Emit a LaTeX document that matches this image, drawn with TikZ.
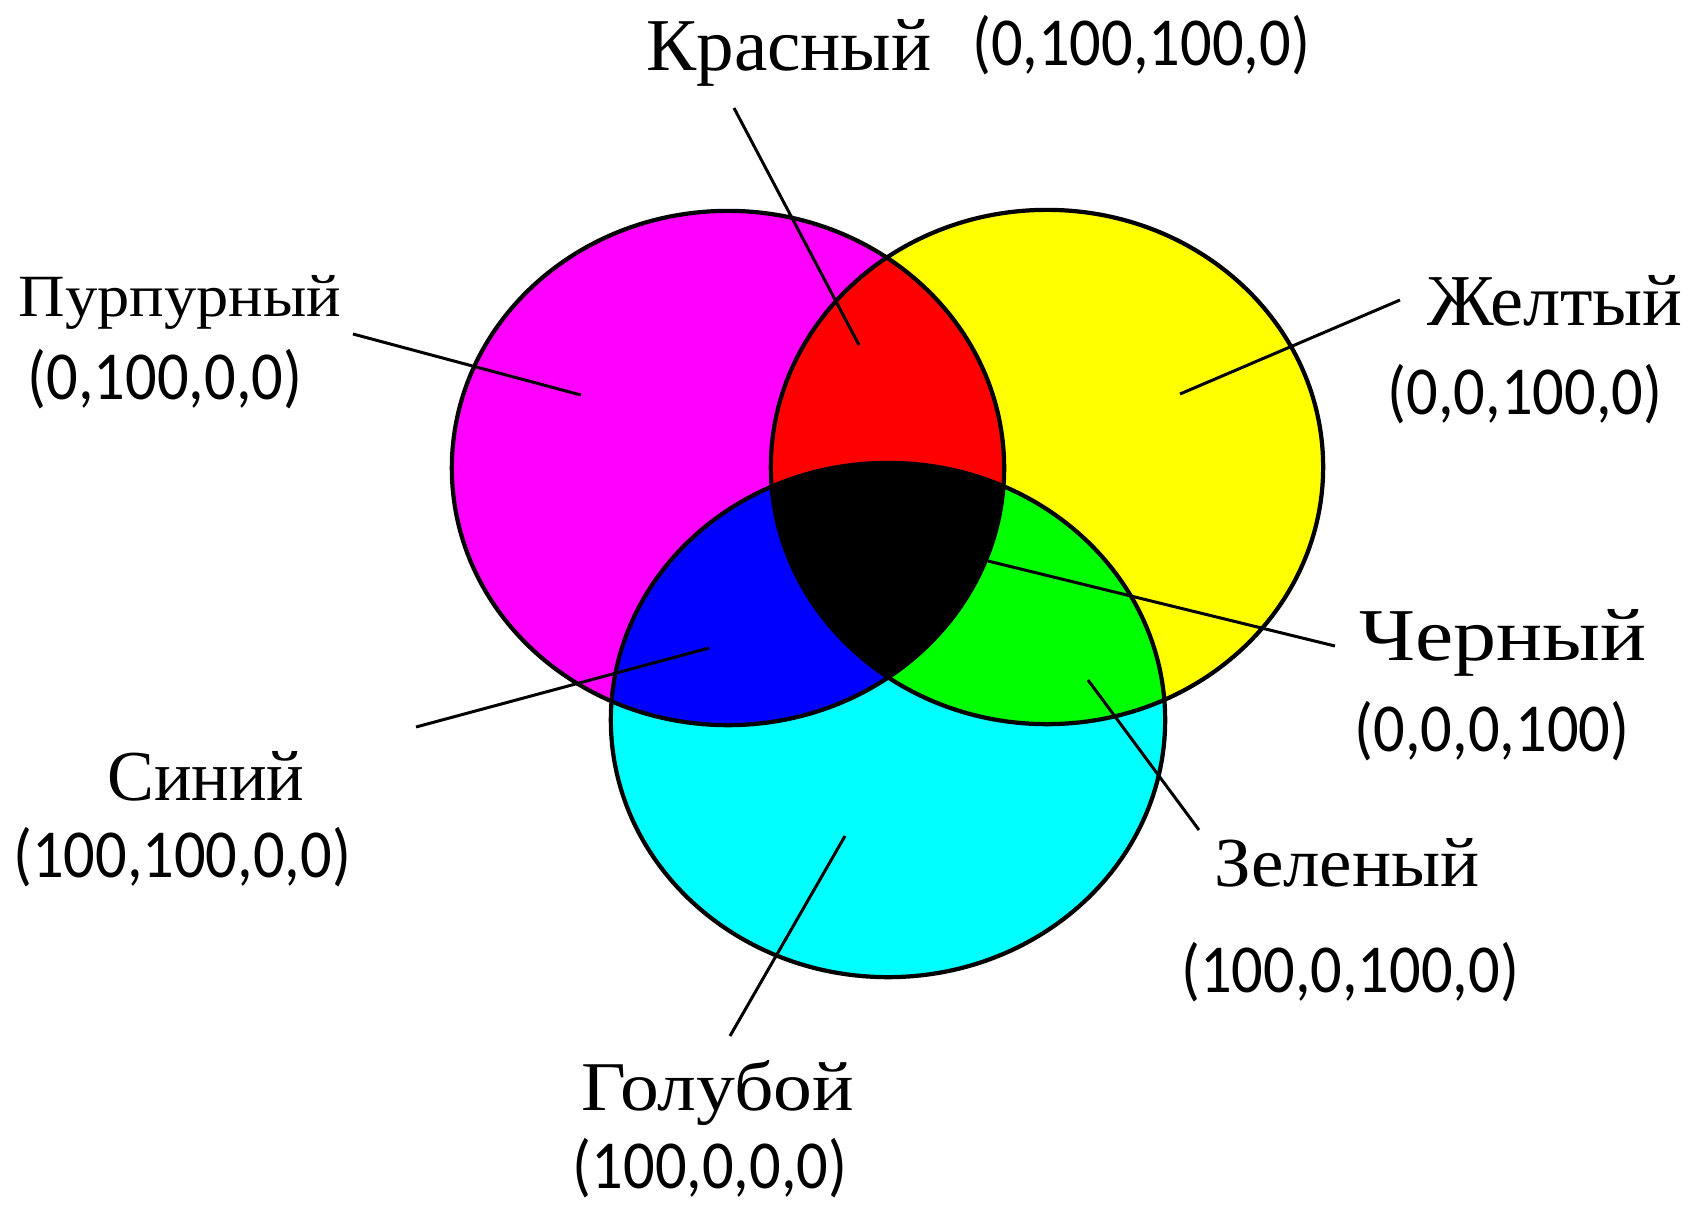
\documentclass[tikz,border=0pt]{standalone}
\usepackage{fontspec}
\newfontfamily\cyrfont{Liberation Serif}
\newfontfamily\numfont{Carlito}
\definecolor{cmag}{RGB}{255,0,255}
\definecolor{cyel}{RGB}{255,255,0}
\definecolor{ccya}{RGB}{0,255,255}
\definecolor{cred}{RGB}{255,0,0}
\definecolor{cblu}{RGB}{0,0,255}
\definecolor{cgrn}{RGB}{0,255,0}
\begin{document}
\begin{tikzpicture}[x=0.01cm,y=-0.01cm,
  lab/.style={anchor=base,inner sep=0pt,font=\cyrfont\fontsize{22}{24}\selectfont},
  val/.style={anchor=base,inner sep=0pt,font=\numfont\fontsize{17.75}{20}\selectfont},
  leader/.style={line width=0.85pt,black},
  rim/.style={line width=1.2pt,black}]
\useasboundingbox (0,0) rectangle (1690,1208);
\fill[white] (0,0) rectangle (1690,1208);
% base discs
\fill[cmag] (728,468) ellipse [x radius=2.76cm, y radius=2.57cm];
\fill[cyel] (1047,467) ellipse [x radius=2.76cm, y radius=2.57cm];
\fill[ccya] (888,720) ellipse [x radius=2.77cm, y radius=2.57cm];
% pairwise overlaps
\begin{scope}
  \clip (728,468) ellipse [x radius=2.76cm, y radius=2.57cm];
  \fill[cred] (1047,467) ellipse [x radius=2.76cm, y radius=2.57cm];
  \fill[cblu] (888,720) ellipse [x radius=2.77cm, y radius=2.57cm];
\end{scope}
\begin{scope}
  \clip (1047,467) ellipse [x radius=2.76cm, y radius=2.57cm];
  \fill[cgrn] (888,720) ellipse [x radius=2.77cm, y radius=2.57cm];
\end{scope}
% triple overlap
\begin{scope}
  \clip (728,468) ellipse [x radius=2.76cm, y radius=2.57cm];
  \clip (1047,467) ellipse [x radius=2.76cm, y radius=2.57cm];
  \fill[black] (888,720) ellipse [x radius=2.77cm, y radius=2.57cm];
\end{scope}
% outlines
\draw[rim] (728,468) ellipse [x radius=2.76cm, y radius=2.57cm];
\draw[rim] (1047,467) ellipse [x radius=2.76cm, y radius=2.57cm];
\draw[rim] (888,720) ellipse [x radius=2.77cm, y radius=2.57cm];
% labels
\node[lab] (kr) at (789,70) {\resizebox{2.85cm}{0.51cm}{Красный}};
\node[val] (krv) at (1141,65) {\scalebox{1}[1.1]{(0,100,100,0)}};
\node[lab] (pu) at (180,316) {\resizebox{3.22cm}{0.41cm}{Пурпурный}};
\node[val] (puv) at (165,399) {\scalebox{1}[1.1]{(0,100,0,0)}};
\node[lab] (zh) at (1555,325) {\resizebox{2.55cm}{0.50cm}{Желтый}};
\node[val] (zhv) at (1525,414) {\scalebox{1}[1.1]{(0,0,100,0)}};
\node[lab] (ch) at (1503,660) {\resizebox{2.87cm}{0.51cm}{Черный}};
\node[val] (chv) at (1492,751) {\scalebox{1}[1.1]{(0,0,0,100)}};
\node[lab] (si) at (206,800) {\resizebox{1.97cm}{0.49cm}{Синий}};
\node[val] (siv) at (182,877) {\scalebox{1}[1.1]{(100,100,0,0)}};
\node[lab] (ze) at (1347,886) {\resizebox{2.65cm}{0.48cm}{Зеленый}};
\node[val] (zev) at (1350,992) {\scalebox{1}[1.1]{(100,0,100,0)}};
\node[lab] (go) at (718,1110) {\resizebox{2.72cm}{0.50cm}{Голубой}};
\node[val] (gov) at (710,1188) {\scalebox{1}[1.1]{(100,0,0,0)}};
% leader lines
\coordinate (krA) at (734,108);  \coordinate (krB) at (859,345);
\coordinate (puA) at (353,334);  \coordinate (puB) at (581,395);
\coordinate (zhA) at (1400,300); \coordinate (zhB) at (1180,394);
\coordinate (chA) at (1335,646); \coordinate (chB) at (988,561);
\coordinate (siA) at (416,727);  \coordinate (siB) at (709,648);
\coordinate (zeA) at (1199,830); \coordinate (zeB) at (1088,680);
\coordinate (goA) at (730,1036); \coordinate (goB) at (845,836);
\draw[leader] (krA) -- (krB);
\draw[leader] (puA) -- (puB);
\draw[leader] (zhA) -- (zhB);
\draw[leader] (chA) -- (chB);
\draw[leader] (siA) -- (siB);
\draw[leader] (zeA) -- (zeB);
\draw[leader] (goA) -- (goB);
\end{tikzpicture}
\end{document}
